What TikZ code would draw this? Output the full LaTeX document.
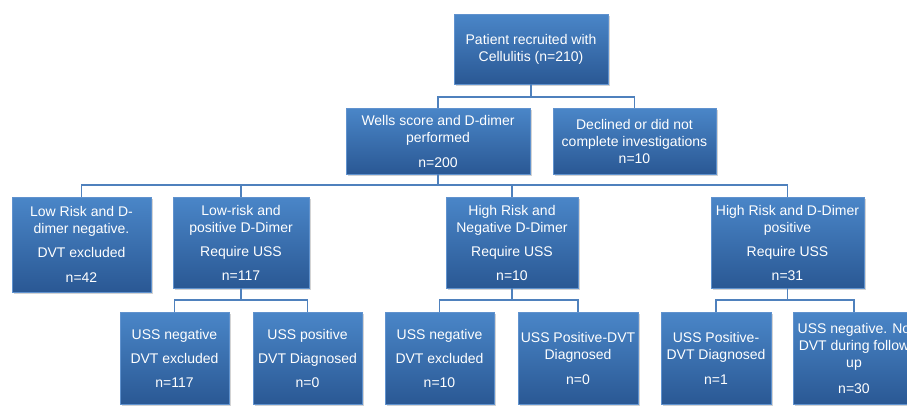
\documentclass[tikz,border=0pt]{standalone}
\usepackage{fontspec}
\setmainfont{Liberation Sans}
\usetikzlibrary{shadows}
\definecolor{boxtop}{RGB}{74,134,200}
\definecolor{boxbot}{RGB}{42,88,148}
\definecolor{boxedge}{RGB}{96,146,206}
\definecolor{linkblue}{RGB}{79,129,189}
\begin{document}
\begin{tikzpicture}[x=1pt,y=-1pt]
\tikzstyle{every node}+=[inner sep=0pt]
\tikzstyle{box}=[draw=boxedge, line width=0.6pt, top color=boxtop, bottom color=boxbot, text=white, align=center, font=\fontsize{14}{17}\selectfont, drop shadow={opacity=0.35, shadow xshift=1.5pt, shadow yshift=-2pt}]
\tikzstyle{link}=[draw=linkblue, line width=1.4pt]
\useasboundingbox (0,0) rectangle (907,405);
\clip (0,0) rectangle (907,405);
% connectors first
\coordinate (bar1) at (531,97);
\coordinate (bar2) at (438,185);
\coordinate (bar3) at (0,300);
% boxes
\node [box, minimum width=154pt, minimum height=70pt] (patient) at (531,49) {Patient recruited with\\Cellulitis (n=210)};
\node [box, minimum width=184pt, minimum height=66pt] (wells) at (438,141) {Wells score and D-dimer\\performed\\[8pt]n=200};
\node [box, minimum width=163pt, minimum height=66pt] (declined) at (634.5,141) {Declined or did not\\complete investigations\\n=10};
\node [box, minimum width=139pt, minimum height=95pt] (lowneg) at (81.5,244.5) {Low Risk and D-\\dimer negative.\\[7pt]DVT excluded\\[8pt]n=42};
\node [box, minimum width=136pt, minimum height=91pt] (lowpos) at (241,242.5) {Low-risk and\\positive D-Dimer\\[7pt]Require USS\\[7pt]n=117};
\node [box, minimum width=132pt, minimum height=91pt] (highneg) at (512,242.5) {High Risk and\\Negative D-Dimer\\[7pt]Require USS\\[7pt]n=10};
\node [box, minimum width=153pt, minimum height=91pt] (highpos) at (787.5,242.5) {High Risk and D-Dimer\\positive\\[7pt]Require USS\\[7pt]n=31};
\node [box, minimum width=109pt, minimum height=92pt] (ussnegA) at (174.5,358) {USS negative\\[7pt]DVT excluded\\[7pt]n=117};
\node [box, minimum width=109pt, minimum height=92pt] (ussposA) at (307.5,358) {USS positive\\[7pt]DVT Diagnosed\\[7pt]n=0};
\node [box, minimum width=109pt, minimum height=92pt] (ussnegB) at (439.5,358) {USS negative\\[7pt]DVT excluded\\[7pt]n=10};
\node [box, minimum width=120pt, minimum height=92pt] (ussposB) at (578,358) {USS Positive-DVT\\Diagnosed\\[8pt]n=0};
\node [box, minimum width=110pt, minimum height=92pt] (ussposC) at (716,358) {USS Positive-\\DVT Diagnosed\\[8pt]n=1};
\node [box, minimum width=122pt, minimum height=92pt] (ussnegC) at (854,358) {USS negative. No\\DVT during follow\\up\\[9pt]n=30};
% elbows
\draw [link] (patient.south) -- (bar1) -| (wells.north);
\draw [link] (bar1) -| (declined.north);
\draw [link] (wells.south) -- (bar2) -| (lowneg.north);
\draw [link] (bar2) -| (lowpos.north);
\draw [link] (bar2) -| (highneg.north);
\draw [link] (bar2) -| (highpos.north);
\draw [link] (lowpos.south) -- (lowpos.south |- bar3) -| (ussnegA.north);
\draw [link] (lowpos.south |- bar3) -| (ussposA.north);
\draw [link] (highneg.south) -- (highneg.south |- bar3) -| (ussnegB.north);
\draw [link] (highneg.south |- bar3) -| (ussposB.north);
\draw [link] (highpos.south) -- (highpos.south |- bar3) -| (ussposC.north);
\draw [link] (highpos.south |- bar3) -| (ussnegC.north);
\end{tikzpicture}
\end{document}
